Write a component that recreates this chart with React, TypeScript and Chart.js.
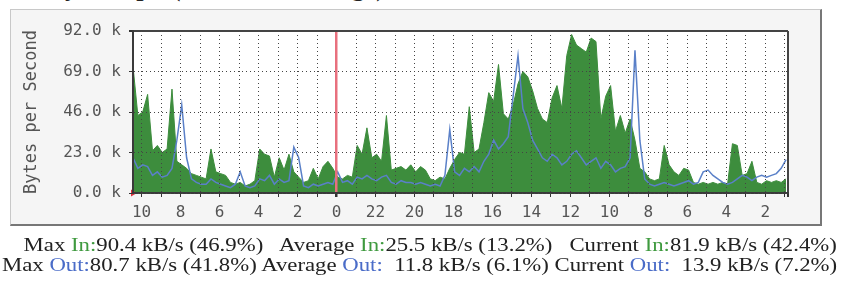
import React, { useEffect, useLayoutEffect, useRef, useState } from "react";
import { Chart, registerables } from "chart.js";

Chart.register(...registerables);

// ---------- data ----------
const TITLE = "`Daily' Graph (5 Minute Average)";
const Y_TITLE = "Bytes per Second";

// x axis: hours before the newest sample (newest on the left, MRTG style)
const SAMPLE_STEP_H = 0.25;
const SPAN_H = 33.6;
const FIRST_TICK_H = 0.44;
const HOUR_OF_DAY = [10, 9, 8, 7, 6, 5, 4, 3, 2, 1, 0, 23, 22, 21, 20, 19, 18, 17, 16, 15, 14, 13, 12, 11, 10, 9, 8, 7, 6, 5, 4, 3, 2, 1];

// y axis (kB/s)
const Y_MAX = 92;
const Y_STEP = 23;

// incoming traffic, k bytes/s, one value per 15 minutes
const IN_K = [
  72, 44, 46, 56, 24, 27, 23, 25, 59, 18,
  16, 14, 11, 10, 9, 8, 25, 12, 11, 10,
  6, 5, 6, 4, 5, 7, 25, 22, 21, 9,
  20, 13, 22, 12, 9, 6, 7, 14, 8, 15,
  18, 14, 9, 8, 10, 9, 27, 22, 37, 20,
  22, 18, 44, 13, 14, 15, 13, 16, 12, 15,
  13, 8, 7, 9, 8, 14, 19, 23, 22, 49,
  23, 25, 40, 57, 52, 73, 45, 42, 50, 62,
  69, 66, 58, 48, 42, 40, 54, 61, 48, 78,
  90, 84, 82, 80, 88, 86, 42, 55, 61, 35,
  44, 34, 42, 30, 14, 12, 8, 7, 8, 27,
  16, 12, 10, 14, 13, 6, 5, 6, 5, 6,
  5, 6, 5, 28, 27, 10, 11, 18, 6, 5,
  7, 6, 7, 6, 8,
];

// outgoing traffic, k bytes/s
const OUT_K = [
  20, 14, 16, 15, 10, 12, 9, 10, 14, 30,
  50, 20, 8, 6, 5, 5, 8, 6, 5, 4,
  3, 5, 12, 4, 3, 4, 8, 7, 10, 5,
  8, 6, 7, 26, 20, 4, 3, 5, 4, 5,
  6, 5, 12, 6, 7, 5, 9, 8, 10, 8,
  7, 9, 10, 6, 5, 7, 6, 6, 5, 6,
  5, 4, 5, 4, 10, 36, 12, 10, 14, 12,
  15, 12, 18, 22, 30, 25, 28, 32, 55, 78,
  48, 40, 30, 25, 20, 18, 22, 20, 16, 18,
  22, 24, 20, 16, 18, 20, 14, 18, 16, 12,
  14, 15, 20, 81, 30, 8, 5, 4, 5, 6,
  5, 4, 5, 6, 7, 5, 6, 12, 13, 10,
  8, 6, 5, 6, 8, 10, 9, 7, 9, 10,
  9, 10, 11, 14, 19,
];

const STAT_LABELS = ["Max", "Average", "Current"];
const IN_STATS = ["90.4 kB/s (46.9%)", "25.5 kB/s (13.2%)", "81.9 kB/s (42.4%)"];
const OUT_STATS = ["80.7 kB/s (41.8%)", "  11.8 kB/s (6.1%)", "  13.9 kB/s (7.2%)"];

// ---------- layout ----------
const W = 845;
const H = 287;
const PLOT_L = 133;
const PLOT_R = 788;
const PLOT_T = 31;
const PLOT_B = 193;
const X_AXIS_H = 30;
const Y_AXIS_W = 123;
const TEXT_RIGHT = 837;
const LINE2_LEFT = 2;

const GREEN = "#3d8d3d";
const BLUE = "#5a80c8";
const GRID = "#444";
const MIDNIGHT = "#e8707e";
const MONO = "'DejaVu Sans Mono', monospace";
const SERIF = "'Liberation Serif', 'Times New Roman', serif";

const plotBg = {
  id: "plotBg",
  beforeDraw(chart: any) {
    const { ctx, chartArea: a } = chart;
    ctx.save();
    ctx.fillStyle = "#ffffff";
    ctx.fillRect(a.left, a.top, a.right - a.left, a.bottom - a.top);
    ctx.restore();
  },
};

const tickPositions = HOUR_OF_DAY.map((_, k) => FIRST_TICK_H + k);

export default function App() {
  const ref = useRef<HTMLCanvasElement>(null);
  const line2Ref = useRef<HTMLDivElement>(null);
  const [scaleX, setScaleX] = useState(1);

  useLayoutEffect(() => {
    const el = line2Ref.current;
    if (el && el.offsetWidth > 0) {
      setScaleX((TEXT_RIGHT - LINE2_LEFT) / el.offsetWidth);
    }
  }, []);

  useEffect(() => {
    const canvas = ref.current!;
    const chart = new Chart(canvas, {
      type: "line",
      data: {
        datasets: [
          {
            label: "In",
            data: IN_K.map((v, i) => ({ x: i * SAMPLE_STEP_H, y: v })),
            borderColor: GREEN,
            backgroundColor: GREEN,
            borderWidth: 1,
            fill: "origin",
            pointRadius: 0,
            tension: 0,
            order: 2,
          },
          {
            label: "Out",
            data: OUT_K.map((v, i) => ({ x: i * SAMPLE_STEP_H, y: v })),
            borderColor: BLUE,
            borderWidth: 1.5,
            fill: false,
            pointRadius: 0,
            tension: 0,
            order: 1,
          },
          {
            label: "origin",
            type: "scatter",
            data: [{ x: 0, y: 0 }],
            pointStyle: "triangle",
            rotation: 90,
            pointRadius: 4,
            backgroundColor: "#e0303c",
            borderWidth: 0,
            clip: false,
            order: 0,
          } as any,
        ],
      },
      options: {
        animation: false,
        responsive: false,
        maintainAspectRatio: false,
        layout: {
          padding: {
            left: PLOT_L - Y_AXIS_W,
            top: PLOT_T,
            right: W - PLOT_R,
            bottom: H - PLOT_B - X_AXIS_H,
          },
        },
        plugins: { legend: { display: false }, tooltip: { enabled: false } },
        scales: {
          x: {
            type: "linear",
            min: 0,
            max: SPAN_H,
            afterBuildTicks: (s: any) => {
              s.ticks = [...tickPositions.map((v) => ({ value: v })), { value: SPAN_H }];
            },
            afterFit: (s: any) => {
              s.height = X_AXIS_H;
            },
            ticks: {
              autoSkip: false,
              maxRotation: 0,
              padding: 6,
              color: "#555",
              font: { family: MONO, size: 16 },
              callback: (_v: any, i: number) =>
                i < HOUR_OF_DAY.length && HOUR_OF_DAY[i] % 2 === 0 ? String(HOUR_OF_DAY[i]) : "",
            },
            grid: {
              z: 1,
              color: (c: any) => (HOUR_OF_DAY[c.index] === 0 ? MIDNIGHT : GRID),
              lineWidth: (c: any) =>
                HOUR_OF_DAY[c.index] === 0 ? 2.5 : c.index === HOUR_OF_DAY.length ? 2 : 1,
              tickLength: 4,
              tickColor: "#333",
            },
            border: {
              display: true,
              color: "#3a3a3a",
              width: 2,
              z: 1,
              dash: (c: any) =>
                c.type !== "tick" || c.index === HOUR_OF_DAY.length || HOUR_OF_DAY[c.index] === 0 ? [] : [1, 3],
            },
          },
          y: {
            min: 0,
            max: Y_MAX,
            afterFit: (s: any) => {
              s.width = Y_AXIS_W;
            },
            ticks: {
              stepSize: Y_STEP,
              padding: 8,
              color: "#555",
              font: { family: MONO, size: 16 },
              callback: (v: any) => Number(v).toFixed(1) + " k",
            },
            title: {
              display: true,
              text: Y_TITLE,
              color: "#555",
              font: { family: MONO, size: 17 },
              padding: { top: 11, bottom: 0 },
            },
            grid: {
              z: 1,
              color: GRID,
              lineWidth: (c: any) => (c.tick && c.tick.value === Y_MAX ? 2 : 1),
              tickLength: 4,
              tickColor: "#333",
            },
            border: {
              display: true,
              color: "#3a3a3a",
              width: 2,
              z: 1,
              dash: (c: any) => (c.type !== "tick" || (c.tick && c.tick.value === Y_MAX) ? [] : [1, 3]),
            },
          },
        },
      },
      plugins: [plotBg],
    } as any);
    return () => chart.destroy();
  }, []);

  const lineStyle = (top: number): React.CSSProperties => ({
    position: "absolute",
    right: W - TEXT_RIGHT,
    top,
    fontFamily: SERIF,
    fontSize: 19,
    lineHeight: "20px",
    whiteSpace: "pre",
    color: "#222",
    transformOrigin: "right center",
    transform: `scaleX(${scaleX})`,
  });

  return (
    <div
      style={{
        position: "absolute",
        left: 0,
        top: 0,
        width: W,
        height: H,
        overflow: "hidden",
        background: "#ffffff",
      }}
    >
      <div
        style={{
          position: "absolute",
          left: 10,
          top: -25,
          fontFamily: SERIF,
          fontWeight: "bold",
          fontSize: 26,
          lineHeight: "26px",
          whiteSpace: "pre",
          color: "#222",
        }}
      >
        {TITLE}
      </div>
      <div
        style={{
          position: "absolute",
          left: 10,
          top: 9,
          width: 812,
          height: 217,
          boxSizing: "border-box",
          background: "#f5f5f5",
          borderTop: "1px solid #c8c8c8",
          borderLeft: "1px solid #c8c8c8",
          borderRight: "2px solid #777",
          borderBottom: "2px solid #777",
        }}
      />
      <canvas
        ref={ref}
        width={W}
        height={H}
        style={{ position: "absolute", left: 0, top: 0, width: W, height: H }}
      />
      <div style={lineStyle(235)}>
        {STAT_LABELS.map((lab, i) => (
          <React.Fragment key={i}>
            {(i > 0 ? "   " : "") + lab + " "}
            <span style={{ color: "#3f9a3f" }}>In:</span>
            {IN_STATS[i]}
          </React.Fragment>
        ))}
      </div>
      <div ref={line2Ref} style={lineStyle(255)}>
        {STAT_LABELS.map((lab, i) => (
          <React.Fragment key={i}>
            {(i > 0 ? " " : "") + lab + " "}
            <span style={{ color: "#4a6cc8" }}>Out:</span>
            {OUT_STATS[i]}
          </React.Fragment>
        ))}
      </div>
    </div>
  );
}
